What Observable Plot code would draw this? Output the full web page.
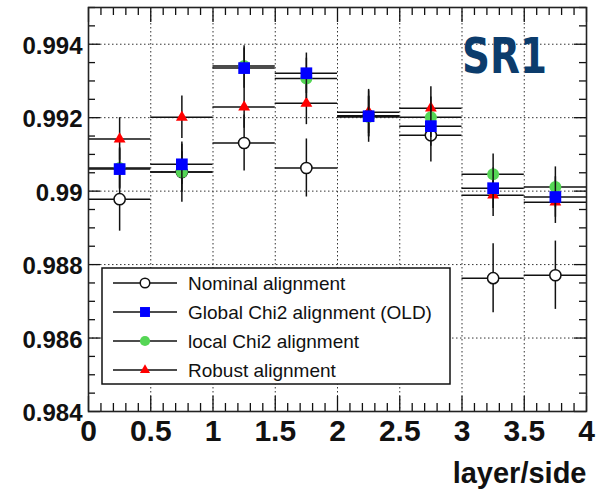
<!DOCTYPE html>
<html>
<head>
<meta charset="utf-8">
<script src="https://cdn.jsdelivr.net/npm/d3@7"></script>
<script src="https://cdn.jsdelivr.net/npm/@observablehq/plot@0.6"></script>
<style>
  html, body { margin: 0; padding: 0; background: #fff; }
  #chart { width: 602px; height: 491px; }
</style>
</head>
<body>
<div id="chart"></div>
<script>
// ---- data ----
const layerSide = [0.25, 0.75, 1.25, 1.75, 2.25, 2.75, 3.25, 3.75];
const binHalfWidth = 0.25;

const nominal     = [0.98978, 0.99052, 0.99131, 0.99063, 0.99205, 0.99152, 0.98763, 0.98771];
const nominalErr  = [0.00087, 0.00082, 0.00076, 0.00079, 0.00072, 0.00073, 0.00094, 0.00093];

const globalChi2    = [0.99060, 0.99073, 0.99335, 0.99321, 0.99204, 0.99177, 0.99008, 0.98984];
const globalChi2Err = [0.00055, 0.00055, 0.00055, 0.00055, 0.00055, 0.00055, 0.00055, 0.00055];

const localChi2    = [0.99063, 0.99052, 0.99341, 0.99307, 0.99202, 0.99201, 0.99046, 0.99011];
const localChi2Err = [0.00055, 0.00055, 0.00055, 0.00055, 0.00055, 0.00055, 0.00055, 0.00055];

const robust    = [0.99142, 0.99201, 0.99229, 0.99239, 0.99215, 0.99226, 0.98989, 0.98970];
const robustErr = [0.00058, 0.00058, 0.00058, 0.00058, 0.00058, 0.00058, 0.00058, 0.00058];

const legendLabels = ["Nominal alignment", "Global Chi2 alignment (OLD)", "local Chi2 alignment", "Robust alignment"];

const xMajorTicks = [0, 0.5, 1, 1.5, 2, 2.5, 3, 3.5, 4];
const xMinorTicks = [0.1,0.2,0.3,0.4, 0.6,0.7,0.8,0.9, 1.1,1.2,1.3,1.4, 1.6,1.7,1.8,1.9, 2.1,2.2,2.3,2.4, 2.6,2.7,2.8,2.9, 3.1,3.2,3.3,3.4, 3.6,3.7,3.8,3.9];
const yMajorTicks = [0.984, 0.986, 0.988, 0.990, 0.992, 0.994];
const yMinorTicks = [0.9845,0.985,0.9855, 0.9865,0.987,0.9875, 0.9885,0.989,0.9895, 0.9905,0.991,0.9915, 0.9925,0.993,0.9935, 0.9945,0.995];
const xGridLines = [0.5, 1, 1.5, 2, 2.5, 3, 3.5];
const yGridLines = [0.986, 0.988, 0.990, 0.992, 0.994];

// ---- build tables ----
function rows(vals, errs) {
  return layerSide.map((x, i) => ({x, y: vals[i], err: errs[i]}));
}
const styles = {
  nominal: {symbol: "circle", r: 5.6, fill: "white", stroke: "#111", strokeWidth: 1.5},
  global:  {symbol: "square", r: 6.6, fill: "#0000ff", stroke: "none"},
  local:   {symbol: "circle", r: 6.0, fill: "#55d655", stroke: "none"},
  robust:  {symbol: "triangle", r: 4.4, fill: "#ff0000", stroke: "none"}
};
const series = [
  {data: rows(nominal, nominalErr), st: styles.nominal},
  {data: rows(robust, robustErr), st: styles.robust},
  {data: rows(localChi2, localChi2Err), st: styles.local},
  {data: rows(globalChi2, globalChi2Err), st: styles.global}
];

const W = 602, H = 491, mL = 88, mR = 16, mT = 7, mB = 80;
const pw = W - mL - mR, ph = H - mT - mB;
const fmt = d => String(+d.toFixed(4));
const ink = "#111";

const marks = [
  Plot.gridX(xGridLines, {stroke: "#333", strokeOpacity: 1, strokeWidth: 1, strokeDasharray: "1.5,2.5"}),
  Plot.gridY(yGridLines, {stroke: "#333", strokeOpacity: 1, strokeWidth: 1, strokeDasharray: "1.5,2.5"}),
  // inward ticks, all four sides
  Plot.tickY(yMajorTicks, {y: d => d, insetRight: pw - 12, stroke: ink, strokeWidth: 1.3}),
  Plot.tickY(yMinorTicks, {y: d => d, insetRight: pw - 7, stroke: ink, strokeWidth: 1.3}),
  Plot.tickY(yMajorTicks, {y: d => d, insetLeft: pw - 12, stroke: ink, strokeWidth: 1.3}),
  Plot.tickY(yMinorTicks, {y: d => d, insetLeft: pw - 7, stroke: ink, strokeWidth: 1.3}),
  Plot.tickX(xMajorTicks, {x: d => d, insetTop: ph - 15, stroke: ink, strokeWidth: 1.3}),
  Plot.tickX(xMinorTicks, {x: d => d, insetTop: ph - 8, stroke: ink, strokeWidth: 1.3}),
  Plot.tickX(xMajorTicks, {x: d => d, insetBottom: ph - 15, stroke: ink, strokeWidth: 1.3}),
  Plot.tickX(xMinorTicks, {x: d => d, insetBottom: ph - 8, stroke: ink, strokeWidth: 1.3})
];
for (const s of series) {
  marks.push(
    Plot.ruleY(s.data, {y: "y", x1: d => d.x - binHalfWidth, x2: d => d.x + binHalfWidth, stroke: ink, strokeWidth: 1.5}),
    Plot.ruleX(s.data, {x: "x", y1: d => d.y - d.err, y2: d => d.y + d.err, stroke: ink, strokeWidth: 1.5}),
    Plot.dot(s.data, {x: "x", y: "y", ...s.st})
  );
}
marks.push(
  Plot.frame({stroke: "#222", strokeWidth: 1.6}),
  Plot.axisY(yMajorTicks, {tickSize: 0, tickPadding: 6, dy: 2, tickFormat: fmt, fontSize: 24, fontWeight: "bold", fill: ink, label: null}),
  Plot.axisX(xMajorTicks, {tickSize: 0, tickPadding: 8, tickFormat: fmt, fontSize: 30, fontWeight: "bold", fill: ink, label: null}),
  Plot.text(["layer/side"], {text: d => d, frameAnchor: "bottom-right", textAnchor: "end", lineAnchor: "bottom", dy: 71, fontSize: 29, fontWeight: "bold", fill: ink})
);

const chart = Plot.plot({
  width: W, height: H,
  marginLeft: mL, marginRight: mR, marginTop: mT, marginBottom: mB,
  style: {fontFamily: "'Liberation Sans', Arial, Helvetica, sans-serif", background: "white", overflow: "visible"},
  x: {domain: [0, 4]},
  y: {domain: [0.984, 0.995]},
  marks
});
document.getElementById("chart").appendChild(chart);

// ---- legend and SR1 label ----
const svg = d3.select(chart);
const lg = svg.append("g").attr("font-family", "'Liberation Sans', Arial, Helvetica, sans-serif").attr("text-anchor", "start");
lg.append("rect").attr("x", 102).attr("y", 268).attr("width", 348).attr("height", 116)
  .attr("fill", "white").attr("stroke", ink).attr("stroke-width", 1.5);
const legendStyles = [styles.nominal, styles.global, styles.local, styles.robust];
const symMap = {circle: d3.symbolCircle, square: d3.symbolSquare, triangle: d3.symbolTriangle};
legendLabels.forEach((label, i) => {
  const cy = 283 + i * 29;
  const st = legendStyles[i];
  lg.append("line").attr("x1", 113).attr("x2", 177).attr("y1", cy).attr("y2", cy)
    .attr("stroke", ink).attr("stroke-width", 1.5);
  const rr = st.r * 0.85;
  lg.append("path").attr("transform", `translate(145,${cy})`)
    .attr("d", d3.symbol(symMap[st.symbol], Math.PI * rr * rr)())
    .attr("fill", st.fill).attr("stroke", st.stroke === "none" ? null : st.stroke)
    .attr("stroke-width", st.strokeWidth || null);
  lg.append("text").attr("x", 188).attr("y", cy).attr("dy", "0.35em")
    .attr("text-anchor", "start")
    .attr("font-size", 19).attr("fill", ink).text(label);
});
svg.append("text").attr("x", 462).attr("y", 73).attr("text-anchor", "start")
  .attr("font-family", "'DejaVu Sans', sans-serif").attr("font-weight", "bold")
  .attr("font-size", 50).attr("textLength", 85).attr("lengthAdjust", "spacingAndGlyphs")
  .attr("fill", "#0c3c6c").text("SR1");
</script>
</body>
</html>
